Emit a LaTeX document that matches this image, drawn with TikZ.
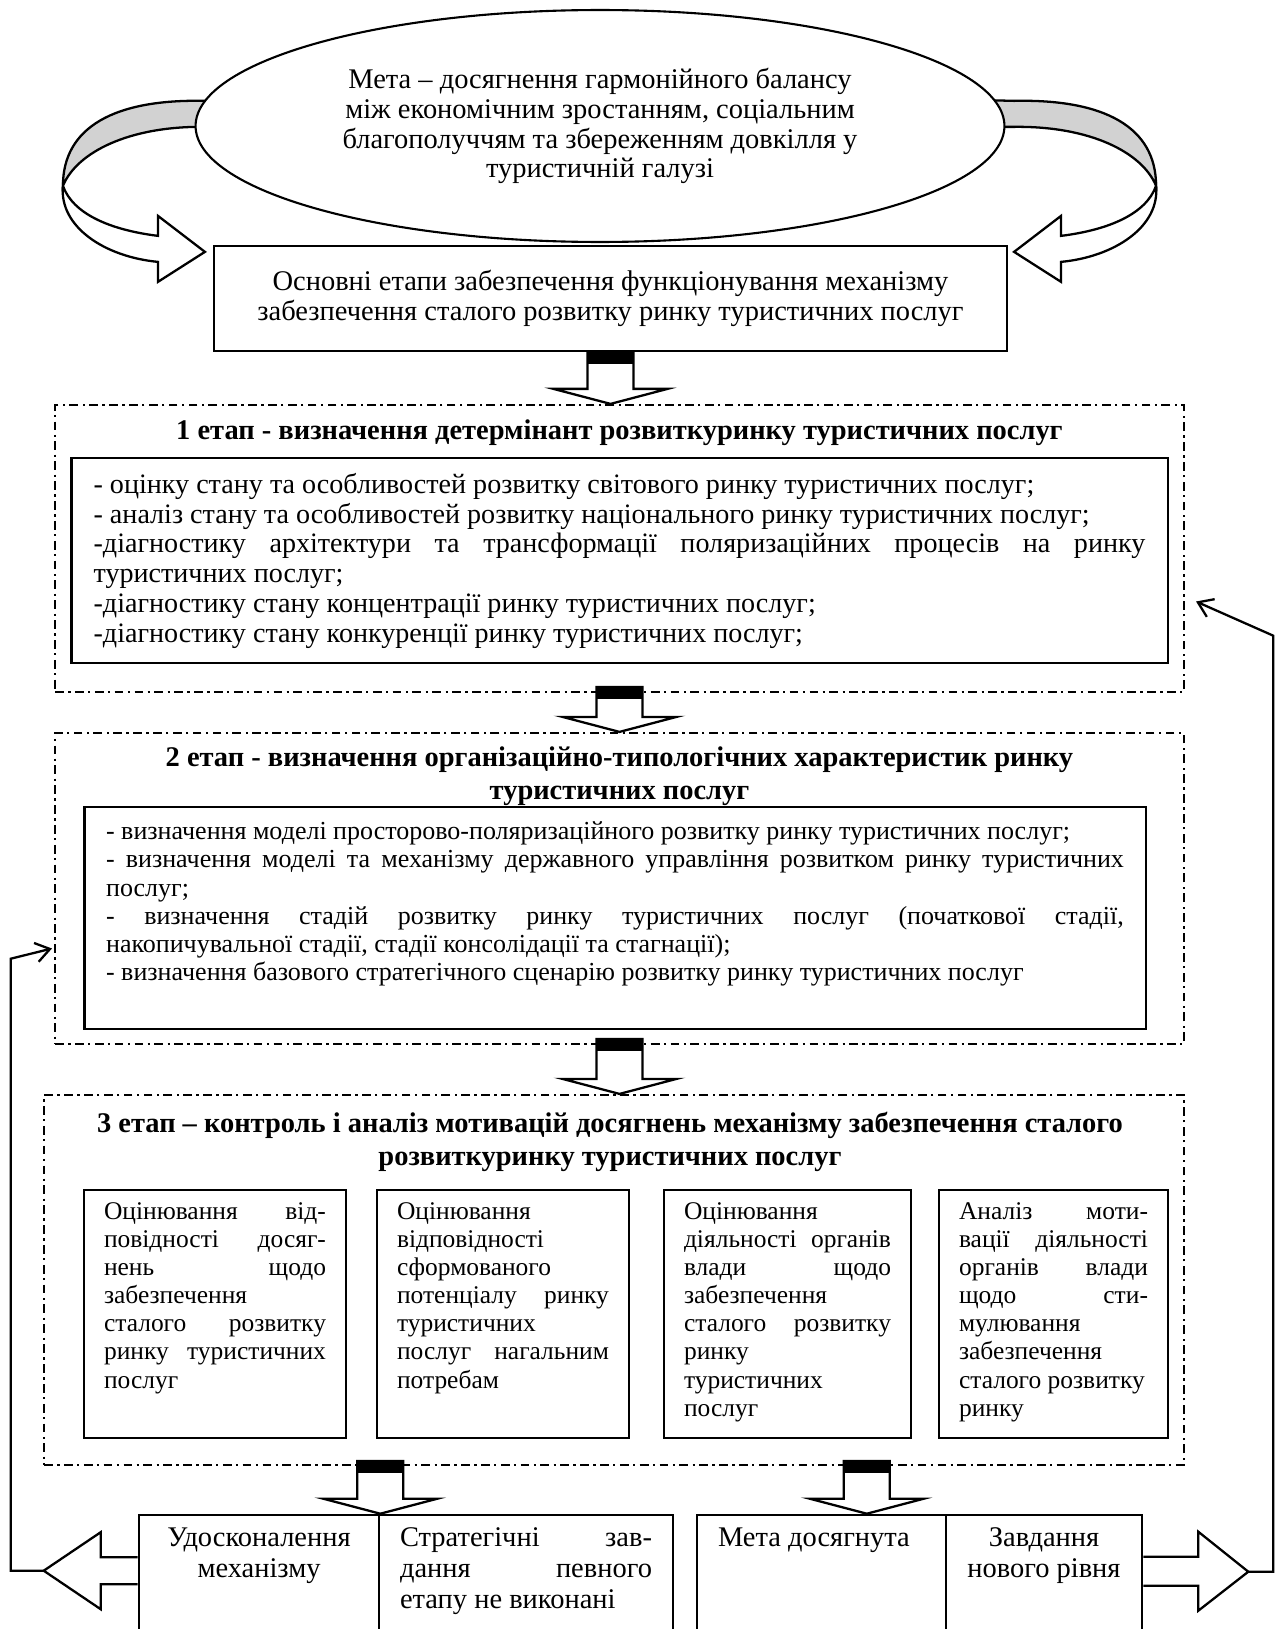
\documentclass[tikz,border=0pt]{standalone}
\usepackage{fontspec}
\setmainfont{Liberation Serif}
\usetikzlibrary{positioning, shapes.geometric, arrows.meta, calc}

\hbadness=10000
\newcommand{\fullline}[1]{\makebox[\linewidth][s]{#1}\par}
\newcommand{\stagearrow}[2]{%
  \coordinate (arrtip) at (#1 |- #2);
  \draw[blockarrow] ($(#1)+(-23,0)$) -- ($(arrtip)+(-23,-15)$) -- ($(arrtip)+(-57,-15)$) -- (arrtip)
    -- ($(arrtip)+(57,-15)$) -- ($(arrtip)+(23,-15)$) -- ($(#1)+(23,0)$) -- cycle;
  \fill ($(#1)+(-23,0)$) rectangle ($(#1)+(23,12)$);
}

\begin{document}
\begin{tikzpicture}[
    x=0.02cm, y=-0.02cm,
    goal/.style={ellipse, draw, line width=1.2pt, fill=white, minimum width=16.18cm, minimum height=4.64cm, inner sep=0pt, align=center, font=\fontsize{16.2}{17}\selectfont},
    block/.style={rectangle, draw, line width=1.3pt, fill=white, align=center, font=\fontsize{16.2}{17}\selectfont},
    stage/.style={rectangle, draw, line width=1.3pt, dash pattern=on 5pt off 2.5pt on 1.3pt off 2.5pt},
    title/.style={align=center, font=\bfseries\fontsize{16.2}{18.8}\selectfont},
    list/.style={rectangle, draw, line width=1.6pt, inner xsep=0.45cm, inner ysep=0.3cm},
    crit/.style={rectangle, draw, line width=1.5pt, inner xsep=0.4cm, inner ysep=0.25cm, font=\fontsize{14.5}{16}\selectfont},
    result/.style={rectangle, draw, line width=1.5pt, fill=white, inner xsep=0.42cm, inner ysep=0.25cm, font=\fontsize{16.2}{17.6}\selectfont},
    blockarrow/.style={draw, fill=white, line width=1.3pt},
    ribbon/.style={draw, line width=1.3pt},
    arrow/.style={-{Straight Barb[length=8pt, width=11pt]}, line width=1.3pt}
]
\useasboundingbox (0,0) rectangle (1279,1629);
\clip (0,0) rectangle (1279,1629);

% Main stages box
\node[block, minimum width=15.86cm, minimum height=2.1cm] (osn) at (610.5,298.5)
  {Основні етапи забезпечення функціонування механізму\\забезпечення сталого розвитку ринку туристичних послуг};

% Curved arrows round the goal
\coordinate (ltip) at ($(osn.north west)+(-8,7)$);
\coordinate (rtip) at ($(osn.north east)+(6,7)$);
\begin{scope}[shift={(ltip)}]
  \draw[ribbon, fill=gray!35] (40,-152) -- (0,-151) .. controls (-90,-153) and (-142,-125) .. (-142,-66)
    .. controls (-128,-100) and (-75,-126) .. (0,-125) -- (40,-125) -- cycle;
  \draw[ribbon, fill=white] (-142,-66) .. controls (-146,-25) and (-100,5) .. (-47,10) -- (-47,30) -- (0,0)
    -- (-47,-36) -- (-47,-16) .. controls (-95,-22) and (-132,-38) .. (-142,-66) -- cycle;
\end{scope}
\begin{scope}[shift={(rtip)}, xscale=-1]
  \draw[ribbon, fill=gray!35] (40,-152) -- (0,-151) .. controls (-90,-153) and (-142,-125) .. (-142,-66)
    .. controls (-128,-100) and (-75,-126) .. (0,-125) -- (40,-125) -- cycle;
  \draw[ribbon, fill=white] (-142,-66) .. controls (-146,-25) and (-100,5) .. (-47,10) -- (-47,30) -- (0,0)
    -- (-47,-36) -- (-47,-16) .. controls (-95,-22) and (-132,-38) .. (-142,-66) -- cycle;
\end{scope}

% Goal
\node[goal] (goal) at (600,126)
  {Мета – досягнення гармонійного балансу\\між економічним зростанням, соціальним\\благополуччям та збереженням довкілля у\\туристичній галузі};

% Stage 1
\node[stage, minimum width=22.58cm, minimum height=5.74cm] (st1) at (619.5,548.5) {};
\node[title] (st1title) at (619.5,433) {1 етап - визначення детермінант розвиткуринку туристичних послуг};
\node[list, font=\fontsize{16}{17}\selectfont] (st1list) at (619.5,560.5) {\parbox[c][3.5cm][t]{21.04cm}{%
  - оцінку стану та особливостей розвитку світового ринку туристичних послуг;\par
  - аналіз стану та особливостей розвитку національного ринку туристичних послуг;\par
  \fullline{-діагностику архітектури та трансформації поляризаційних процесів на ринку}
  туристичних послуг;\par
  -діагностику стану концентрації ринку туристичних послуг;\par
  -діагностику стану конкуренції ринку туристичних послуг;}};

% Stage 2
\node[stage, minimum width=22.58cm, minimum height=6.22cm] (st2) at (619.5,888.5) {};
\node[title] (st2title) at (619.5,776.5) {2 етап - визначення організаційно-типологічних характеристик ринку\\туристичних послуг};
\node[list, inner xsep=0.44cm, font=\fontsize{14.8}{16}\selectfont] (st2list) at (615,918) {\parbox[c][3.84cm][t]{20.36cm}{%
  - визначення моделі просторово-поляризаційного розвитку ринку туристичних послуг;\par
  \fullline{- визначення моделі та механізму державного управління розвитком ринку туристичних}
  послуг;\par
  \fullline{- визначення стадій розвитку ринку туристичних послуг (початкової стадії,}
  накопичувальної стадії, стадії консолідації та стагнації);\par
  - визначення базового стратегічного сценарію розвитку ринку туристичних послуг}};

% Stage 3
\node[stage, minimum width=22.8cm, minimum height=7.4cm] (st3) at (614,1280) {};
\node[title] (st3title) at (610,1141.5) {3 етап – контроль і аналіз мотивацій досягнень механізму забезпечення сталого\\розвиткуринку туристичних послуг};
\node[crit] (crA) at (215,1314) {\parbox[c][4.46cm][t]{4.44cm}{%
  \fullline{Оцінювання від-}\fullline{повідності досяг-}\fullline{нень щодо}забезпечення\par
  \fullline{сталого розвитку}\fullline{ринку туристичних}послуг}};
\node[crit] (crB) at (503,1314) {\parbox[c][4.46cm][t]{4.24cm}{%
  Оцінювання\par відповідності\par сформованого\par\fullline{потенціалу ринку}туристичних\par
  \fullline{послуг нагальним}потребам}};
\node[crit] (crC) at (787.5,1314) {\parbox[c][4.46cm][t]{4.14cm}{%
  Оцінювання\par\fullline{діяльності органів}\fullline{влади щодо}забезпечення\par
  \fullline{сталого розвитку}ринку\par туристичних\par послуг}};
\node[crit] (crD) at (1053.5,1314) {\parbox[c][4.46cm][t]{3.78cm}{%
  \fullline{Аналіз моти-}\fullline{вації діяльності}\fullline{органів влади}\fullline{щодо сти-}мулювання\par
  забезпечення\par сталого розвитку\par ринку}};

% Results
\node[result] (udos) at (259,1580) {\parbox[c][2.1cm][t]{3.96cm}{\centering Удосконалення\\механізму}};
\node[result] (strat) at (526,1580) {\parbox[c][2.1cm][t]{5.04cm}{%
  \fullline{Стратегічні зав-}\fullline{дання певного}етапу не виконані}};
\node[result] (meta) at (821.5,1580) {\parbox[c][2.1cm][t]{4.14cm}{Мета досягнута}};
\node[result] (zavd) at (1044,1580) {\parbox[c][2.1cm][t]{3.08cm}{\centering Завдання\\нового рівня}};

% Block arrows
\stagearrow{osn.south}{st1.north}
\coordinate (a2top) at ($(st1.south)+(0,-6)$);
\stagearrow{a2top}{st2.north}
\coordinate (a3top) at ($(st2.south)+(0,-6)$);
\stagearrow{a3top}{st3.north}
\coordinate (a4top) at ($(udos.north east |- st3.south)+(0,-5)$);
\stagearrow{a4top}{udos.north east}
\coordinate (metatop) at ($(meta.north west)!0.68!(meta.north east)$);
\coordinate (a5top) at ($(metatop |- st3.south)+(0,-5)$);
\stagearrow{a5top}{metatop}

% Feedback
\coordinate (lout) at ($(udos.north west)+(-94,57)$);
\coordinate (rout) at ($(zavd.north east)+(105,58)$);
\coordinate (fbl) at ($(st2.west)+(-2,60)$);
\coordinate (fbr) at ($(st1.east)+(11,53)$);
\draw[arrow] (lout) -- ++(-33,0) -- ++(0,-612) -- (fbl);
\draw[arrow] (rout) -- ++(25,0) -- ++(0,-936) -- (fbr);
\draw[blockarrow] ($(udos.north west)+(0,43.5)$) -- ++(-37,0) -- ++(0,-25) -- (lout) -- ++(57,38.5) -- ++(0,-25) -- ++(37,0);
\draw[blockarrow] ($(zavd.north east)+(0,43)$) -- ++(55,0) -- ++(0,-25) -- (rout) -- ++(-50,39) -- ++(0,-25) -- ++(-55,0);
\end{tikzpicture}
\end{document}
